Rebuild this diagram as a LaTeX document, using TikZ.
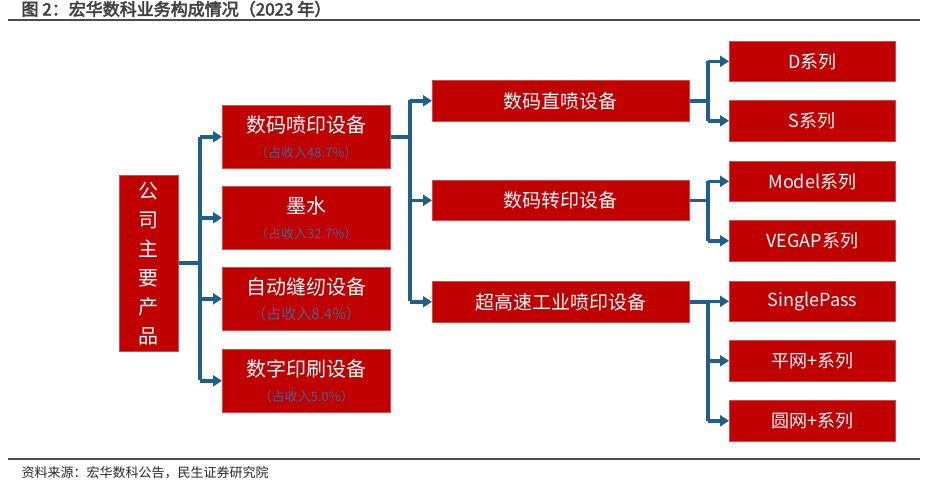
\documentclass[tikz,border=0pt]{standalone}
\usepackage{fontspec}
\setmainfont{Noto Sans CJK SC}
\newfontfamily\cjkb{Noto Sans CJK SC}[FakeBold=3]
\usetikzlibrary{arrows.meta}
\definecolor{boxred}{HTML}{C00000}
\definecolor{lineblue}{HTML}{1F5F8B}
\definecolor{pctblue}{HTML}{4A6490}
\tikzset{
 rbox/.style={fill=boxred,draw=boxred!70!white,line width=0.6pt,text=white,inner sep=0pt,align=center,anchor=north west},
 conn/.style={draw=lineblue,line width=3.5pt,-{Triangle[length=9pt,width=11pt]}},
 plain/.style={draw=lineblue,line width=3.5pt}
}
\newcommand{\mybox}[7]{\node[rbox,minimum width=#3-#1,minimum height=#4-#2,font=#7] (#5) at (#1,#2) {#6};}
\newcommand{\pcttxt}[2]{{\color{pctblue}\fontsize{#1}{#1}\selectfont #2}}
\begin{document}
\begin{tikzpicture}[x=1pt,y=-1pt]
\useasboundingbox (0,0) rectangle (928,483);
\node[anchor=west,font=\cjkb\fontsize{17}{18}\selectfont,text=black!75] (title) at (18,9) {图 2：宏华数科业务构成情况（2023 年）};
\draw[black!70,line width=1.5pt] (8,20) -- (920,20);
\draw[black!70,line width=1.5pt] (8,459) -- (920,459);
\node[anchor=west,font=\fontsize{13}{14}\selectfont,text=black!85] (src) at (18,473) {资料来源：宏华数科公告，民生证券研究院};
% left
\mybox{119}{175}{178}{351}{root}{公\\司\\主\\要\\产\\品}{\fontsize{20}{29}\selectfont}
% level 1
\mybox{222}{105}{390}{168}{a1}{数码喷印设备\\[3pt]\pcttxt{13}{（占收入48.7\%）}}{\fontsize{20}{22}\selectfont}
\mybox{222}{186}{390}{249}{a2}{墨水\\[3pt]\pcttxt{13}{（占收入32.7\%）}}{\fontsize{20}{22}\selectfont}
\mybox{222}{267}{390}{330}{a3}{自动缝纫设备\\[3pt]\pcttxt{15}{（占收入8.4\%）}}{\fontsize{20}{22}\selectfont}
\mybox{222}{349}{390}{412}{a4}{数字印刷设备\\[3pt]\pcttxt{13}{（占收入5.0\%）}}{\fontsize{20}{22}\selectfont}
% level 2
\mybox{432}{80}{689}{121}{b1}{数码直喷设备}{\fontsize{19}{20}\selectfont}
\mybox{432}{180}{689}{220}{b2}{数码转印设备}{\fontsize{19}{20}\selectfont}
\mybox{432}{281}{689}{322}{b3}{超高速工业喷印设备}{\fontsize{19}{20}\selectfont}
% level 3
\mybox{729}{41}{895}{81}{c1}{D系列}{\fontsize{18}{20}\selectfont}
\mybox{729}{100}{895}{141}{c2}{S系列}{\fontsize{18}{20}\selectfont}
\mybox{729}{161}{895}{201}{c3}{Model系列}{\fontsize{18}{20}\selectfont}
\mybox{729}{220}{895}{261}{c4}{VEGAP系列}{\fontsize{18}{20}\selectfont}
\mybox{729}{281}{895}{321}{c5}{SinglePass}{\fontsize{18}{20}\selectfont}
\mybox{729}{340}{895}{381}{c6}{平网+系列}{\fontsize{18}{20}\selectfont}
\mybox{729}{400}{895}{441}{c7}{圆网+系列}{\fontsize{18}{20}\selectfont}
% connectors root
\coordinate (j0) at (200,263);
\draw[plain] (root.east |- j0) -- (j0);
\draw[plain] (200,137) -- (200,380);
\foreach \t in {a1,a2,a3,a4} \draw[conn] (200,0 |- \t.west) -- (\t.west);
% a1 -> b
\coordinate (j1) at (410,137);
\draw[plain] (a1.east |- j1) -- (j1);
\draw[plain] (410,100) -- (410,301);
\foreach \t in {b1,b2,b3} \draw[conn] (410,0 |- \t.west) -- (\t.west);
% b -> c
\draw[plain] (b1.east) -- (708,0 |- b1.east);
\draw[plain] (708,0 |- c1.west) -- (708,0 |- c2.west);
\foreach \t in {c1,c2} \draw[conn] (708,0 |- \t.west) -- (\t.west);
\draw[plain] (b2.east) -- (708,0 |- b2.east);
\draw[plain] (708,0 |- c3.west) -- (708,0 |- c4.west);
\foreach \t in {c3,c4} \draw[conn] (708,0 |- \t.west) -- (\t.west);
\draw[plain] (b3.east) -- (708,0 |- b3.east);
\draw[plain] (708,0 |- c5.west) -- (708,0 |- c7.west);
\foreach \t in {c5,c6,c7} \draw[conn] (708,0 |- \t.west) -- (\t.west);
\end{tikzpicture}
\end{document}
